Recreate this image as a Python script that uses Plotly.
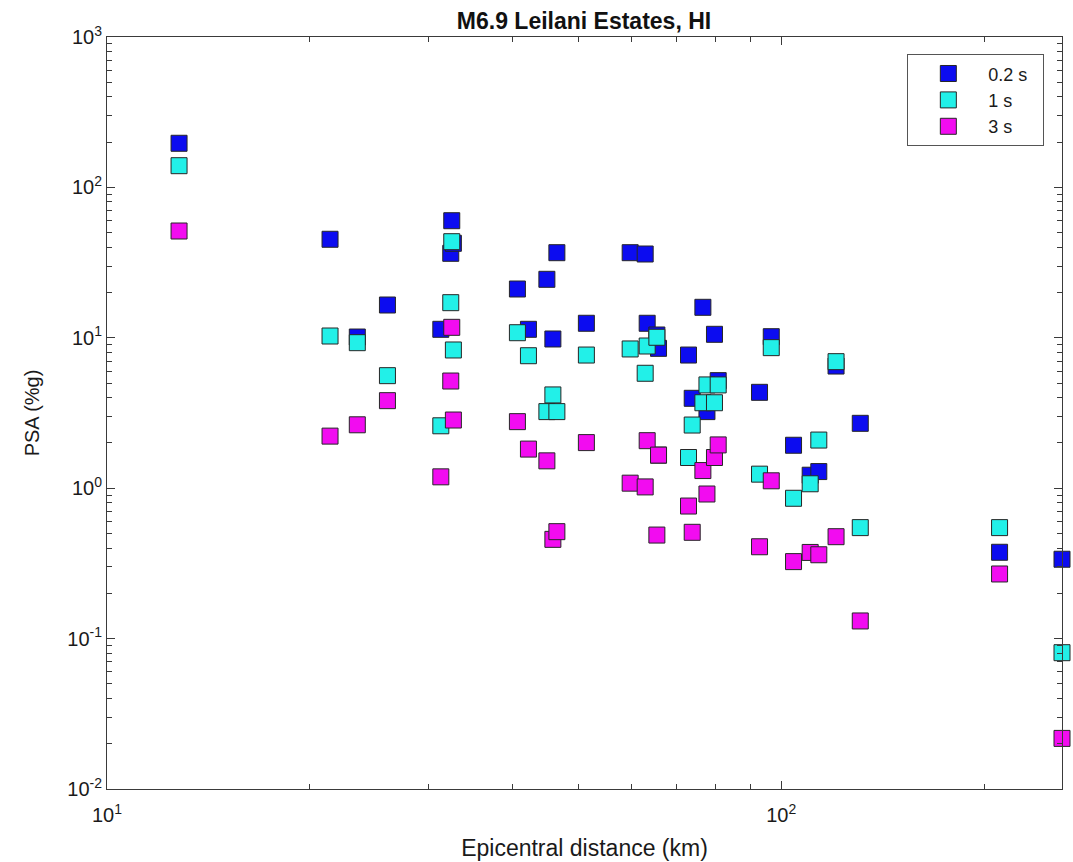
import numpy as np
import plotly.graph_objects as go

# Epicentral distance of each station (km)
distance_km = [
    12.79, 21.42, 23.51, 26.06, 31.27, 32.46, 32.35, 32.64,
    40.62, 42.18, 44.92, 45.85, 46.48, 51.41,
    59.70, 62.84, 63.27, 65.40, 65.77,
    72.86, 73.79, 76.53, 77.60, 79.62, 80.64,
    92.86, 96.66, 104.3, 110.4, 113.7, 120.6, 131.0, 210.8, 260.9,
]

# Pseudo-spectral acceleration (%g) at three periods
psa_02s = [
    196.5, 45.2, 10.12, 16.52, 11.39, 60.05, 36.46, 42.5,
    21.11, 11.39, 24.49, 9.82, 36.80, 12.49,
    36.80, 36.07, 12.49, 10.44, 8.51,
    7.68, 3.96, 15.95, 3.23, 10.55, 5.19,
    4.34, 10.17, 1.93, 1.22, 1.29, 6.49, 2.70, 0.375, 0.337,
]
psa_1s = [
    139.4, 10.28, 9.28, 5.60, 2.60, 43.55, 17.12, 8.30,
    10.81, 7.60, 3.23, 4.17, 3.23, 7.68,
    8.43, 5.81, 8.82, 10.08, 1.66,
    1.60, 2.63, 3.70, 4.86, 3.70, 4.86,
    1.24, 8.60, 0.857, 1.07, 2.09, 6.94, 0.547, 0.547, 0.0806,
]
psa_3s = [
    51.3, 2.22, 2.64, 3.82, 1.19, 11.74, 5.16, 2.84,
    2.77, 1.82, 1.52, 0.457, 0.514, 2.01,
    1.08, 1.02, 2.07, 0.488, 1.66,
    0.761, 0.509, 1.31, 0.915, 1.60, 1.94,
    0.408, 1.12, 0.325, 0.374, 0.361, 0.476, 0.131, 0.269, 0.0217,
]

series = [
    ("0.2 s", psa_02s, "#0c0cf0"),
    ("1 s", psa_1s, "#22f0e8"),
    ("3 s", psa_3s, "#f20cf0"),
]

# Axis tick positions and labels
x_ticks = [10, 100]
x_tick_text = ["10<sup>1</sup>", "10<sup>2</sup>"]
y_ticks = [1e-2, 1e-1, 1e0, 1e1, 1e2, 1e3]
y_tick_text = ["10<sup>-2</sup>", "10<sup>-1</sup>", "10<sup>0</sup>",
               "10<sup>1</sup>", "10<sup>2</sup>", "10<sup>3</sup>"]
x_minor = [m * 10 ** e for e in (1, 2) for m in range(2, 10) if m * 10 ** e < 261]
y_minor = [m * 10.0 ** e for e in range(-2, 3) for m in range(2, 10)]

FONT = "Liberation Sans, Arial, Helvetica, sans-serif"
AXIS_COLOR = "#3a3a3a"
TEXT_COLOR = "#1a1a1a"
NB = "\u00a0"

fig = go.Figure()
for name, values, color in series:
    fig.add_trace(go.Scatter(
        x=distance_km, y=values, mode="markers", name=NB * 4 + name + NB * 2,
        cliponaxis=False,
        marker=dict(symbol="square", size=16, color=color,
                    line=dict(color="#262626", width=1)),
    ))

axis_common = dict(
    showline=True, linecolor=AXIS_COLOR, linewidth=1, mirror="allticks",
    ticks="inside", ticklen=8, tickcolor=AXIS_COLOR, tickwidth=1,
    showgrid=False, zeroline=False, automargin=False,
    tickfont=dict(family=FONT, size=20, color=TEXT_COLOR),
)
minor_common = dict(tickmode="array", ticks="inside", ticklen=5,
                    tickcolor=AXIS_COLOR, tickwidth=1, showgrid=False)

fig.update_xaxes(
    type="log", range=[1, np.log10(260.9)],
    tickmode="array", tickvals=x_ticks, ticktext=x_tick_text,
    ticklabelstandoff=8,
    minor=dict(tickvals=x_minor, **minor_common),
    title=dict(text="Epicentral distance (km)", standoff=14,
               font=dict(family=FONT, size=23, color=TEXT_COLOR)),
    **axis_common,
)
fig.update_yaxes(
    type="log", range=[-2, 3],
    tickmode="array", tickvals=y_ticks, ticktext=y_tick_text,
    minor=dict(tickvals=y_minor, **minor_common),
    title=dict(text="PSA (%g)", standoff=22,
               font=dict(family=FONT, size=20, color=TEXT_COLOR)),
    **axis_common,
)

fig.update_layout(
    width=1073, height=862,
    margin=dict(l=107, r=11, t=37, b=73),
    paper_bgcolor="white", plot_bgcolor="white",
    title=dict(text="<b>M6.9 Leilani Estates, HI</b>", x=584 / 1073, xanchor="center",
               xref="container", yref="container", y=1 - 21 / 862, yanchor="middle",
               font=dict(family=FONT, size=23, color="#111")),
    showlegend=True,
    legend=dict(
        x=0.9815, xanchor="right", y=0.977, yanchor="top",
        bordercolor="#555", borderwidth=1, bgcolor="white",
        font=dict(family=FONT, size=18, color=TEXT_COLOR),
        itemsizing="trace", indentation=20, tracegroupgap=0,
    ),
)

fig.write_html("out.html")
